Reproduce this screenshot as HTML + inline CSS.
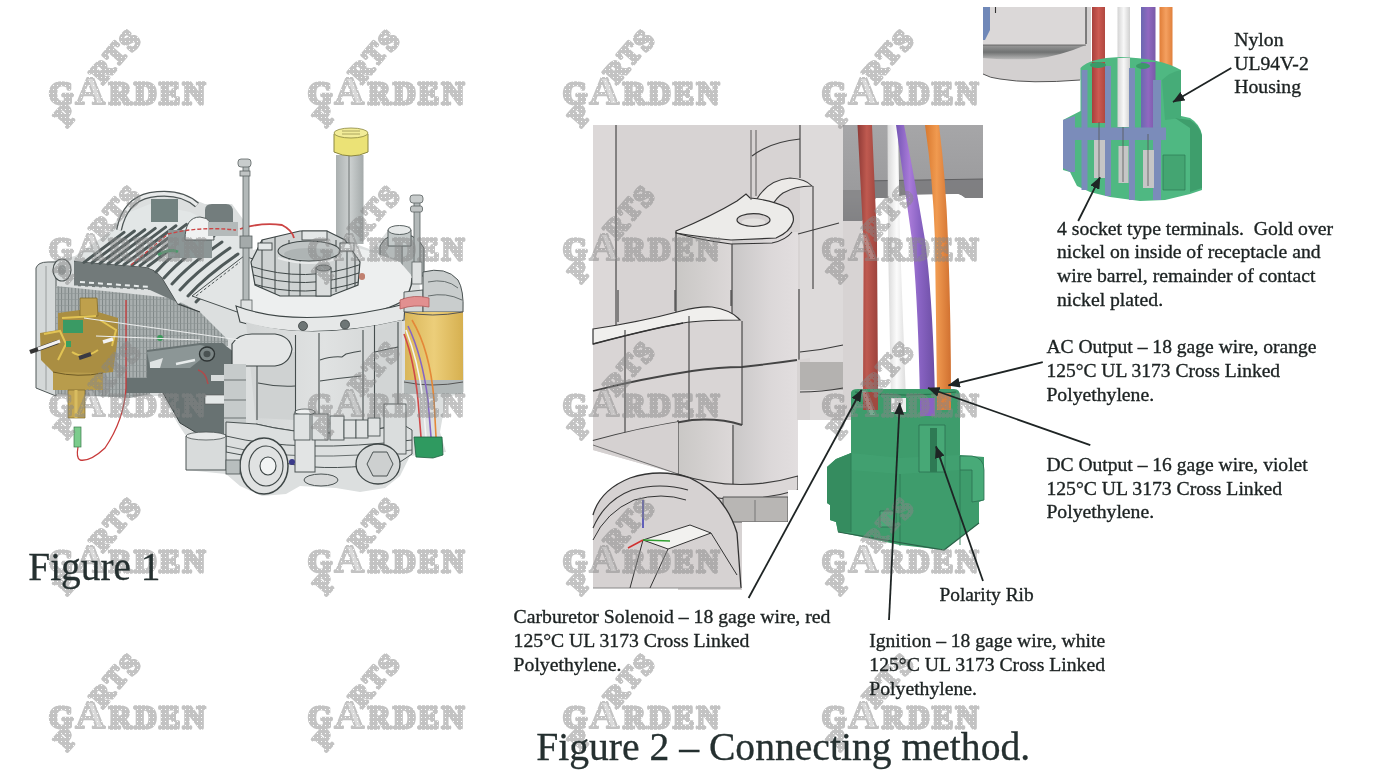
<!DOCTYPE html>
<html><head><meta charset="utf-8">
<style>
html,body{margin:0;padding:0;background:#fff;}
body{width:1374px;height:782px;position:relative;overflow:hidden;font-family:"Liberation Serif",serif;}
svg.full{position:absolute;left:0;top:0;width:1374px;height:782px;}
</style></head><body>
<svg class="full" viewBox="0 0 1374 782">
<defs>
<pattern id="grid" width="3.4" height="6" patternUnits="userSpaceOnUse"><rect width="3.4" height="6" fill="#a9afaf"/><rect width="0.9" height="6" fill="#7c8484"/><rect y="5.2" width="3.4" height="0.6" fill="#8c9494"/></pattern>
<linearGradient id="yel" x1="0" x2="1"><stop offset="0" stop-color="#d9b65a"/><stop offset="0.5" stop-color="#ecce7a"/><stop offset="1" stop-color="#d6b050"/></linearGradient>
<linearGradient id="gold" x1="0" x2="1"><stop offset="0" stop-color="#b09040"/><stop offset="0.5" stop-color="#d2b460"/><stop offset="1" stop-color="#b48e3c"/></linearGradient>
<linearGradient id="tube" x1="0" x2="1"><stop offset="0" stop-color="#aab0b0"/><stop offset="0.5" stop-color="#ccd0d0"/><stop offset="1" stop-color="#a4aaaa"/></linearGradient>
<linearGradient id="crank" x1="0" x2="1"><stop offset="0" stop-color="#d2d5d5"/><stop offset="0.5" stop-color="#e0e2e2"/><stop offset="1" stop-color="#d0d3d3"/></linearGradient>
</defs>
<!-- base silhouette -->
<path d="M36,268 Q38,262 48,262 L75,256 L110,232 L120,214 Q135,194 160,195 L190,198 L205,204 L232,204 L245,222 L253,250 L300,238 L345,240 L372,250 L390,228 L410,226 L418,262 L420,290 L440,286 L463,300 L464,392 L446,398 L440,432 L446,452 L410,456 L400,476 L385,488 L360,492 L336,488 L300,486 L286,494 L262,496 L240,486 L226,474 L186,470 L186,436 L178,424 L162,396 L126,396 L56,396 L36,388 Z" fill="#dcdfdf"/>
<!-- left panel -->
<path d="M36,268 Q38,262 48,262 L56,262 L56,396 L36,388 Z" fill="#d4d8d8" stroke="#505858" stroke-width="1"/>
<path d="M46,266 V390" stroke="#8a9090" stroke-width="0.8"/>
<ellipse cx="62" cy="270" rx="9" ry="11" fill="#d8dcdc" stroke="#4a5252" stroke-width="1.2"/>
<ellipse cx="62" cy="270" rx="4" ry="5" fill="#9aa0a0"/>
<!-- grid region -->
<path d="M56,286 L172,298 L200,312 L228,340 L228,346 L150,350 L150,394 L130,398 L56,394 Z" fill="url(#grid)"/>
<!-- dark hood -->
<path d="M74,261 L146,267 Q160,271 166,284 L178,304 L200,312 L172,300 L150,290 L74,286 Z" fill="#727a7a"/>
<path d="M74,261 L146,267 Q160,271 166,284 L178,304 L200,312" fill="none" stroke="#3a4040" stroke-width="1.2"/>
<path d="M74,286 L150,290" stroke="#e0e4e4" stroke-width="1.2" stroke-dasharray="4 3"/>
<!-- fins region -->
<path d="M78,258 L112,230 L130,212 L150,204 L190,212 L215,224 L244,240 L244,258 L192,296 L178,304 L166,284 Q160,271 146,267 L74,261 Z" fill="#e2e6e6"/>
<g stroke="#4f5959" stroke-width="3" fill="none" stroke-linecap="round">
<path d="M84,262.4 L124.0,232.4"/>
<path d="M92,262.8 L134.4,231.0"/>
<path d="M100,263.3 L144.8,229.7"/>
<path d="M108,263.8 L155.2,228.4"/>
<path d="M116,264.3 L165.6,227.1"/>
<path d="M124,264.8 L176.0,225.8"/>
<path d="M132,265.2 L186.4,224.4"/>
<path d="M140,265.7 L196.8,223.1"/>
<path d="M148,266.2 L207.2,221.8"/>
<path d="M156,272 Q174,252 206,230"/>
<path d="M164,278 Q182,258 214,236"/>
<path d="M172,284 Q190,264 222,242"/>
<path d="M180,290 Q198,270 230,248"/>
<path d="M188,296 Q206,276 238,254"/>
<path d="M196,302 Q214,282 246,260"/>
</g>
<path d="M80,282 L150,287" stroke="#e8ecec" stroke-width="2" stroke-dasharray="5 4"/>
<!-- upper middle parts -->
<path d="M119,230 Q125,200 150,195 Q180,190 197,205" fill="none" stroke="#4d5555" stroke-width="6"/>
<path d="M119,230 Q125,200 150,195 Q180,190 197,205" fill="none" stroke="#e8eaea" stroke-width="3.5"/>
<rect x="151" y="199" width="27" height="23" fill="#728280"/>
<path d="M205,222 V210 Q205,204 212,204 L226,204 Q233,204 233,212 V222 Z" fill="#737d7d"/>
<path d="M168,230 H212 V258 H168 Z" fill="#8c9696"/>
<path d="M185,240 Q185,217 200,217 Q214,217 214,240 Z" fill="#f0f2f2" stroke="#505858" stroke-width="1"/>
<path d="M208,222 H238 V236 H208 Z" fill="#b4baba"/>
<path d="M158,255 Q170,248 178,252" stroke="#4a9a6a" stroke-width="3" fill="none"/>
<!-- right side of fins: light slanted plate region -->
<path d="M192,296 L244,256 L256,260 L256,314 L240,313 Z" fill="#e2e5e5" stroke="#4a5252" stroke-width="1"/>
<path d="M196,296 L240,262" stroke="#505858" stroke-width="1" stroke-dasharray="3 2"/>
<!-- dipstick tube + cap -->
<rect x="336" y="155" width="27.5" height="89" fill="url(#tube)"/>
<path d="M349,153 V244" stroke="#6a7070" stroke-width="1"/>
<path d="M334,134 Q351,126 368,134 V152 Q351,160 334,152 Z" fill="#ebe276" stroke="#8a8640" stroke-width="1"/>
<ellipse cx="351" cy="133" rx="17" ry="5" fill="#f2ec98" stroke="#8a8640" stroke-width="0.8"/>
<path d="M342,131 L360,131 M342,134 L360,134" stroke="#9a9450" stroke-width="0.8"/>
<!-- right small cylinder -->
<path d="M380,246 Q384,238 390,236 L412,236 Q420,240 424,248 V276 H380 Z" fill="#b4baba" stroke="#4a5252" stroke-width="1"/>
<path d="M388,230 H411 V246 H388 Z" fill="#c4caca" stroke="#4a5252" stroke-width="0.9"/>
<ellipse cx="399.5" cy="230" rx="11.5" ry="4.5" fill="#e6e9e9" stroke="#4a5252" stroke-width="0.9"/>
<path d="M402,246 V276" stroke="#5a6262" stroke-width="0.9"/>
<!-- top plate -->
<path d="M248,262 L300,246 L345,244 L372,252 L400,262 L412,276 L412,290 Q405,304 380,310 Q330,320 290,318 Q262,316 250,313 Z" fill="#edefef"/>
<path d="M256,314 Q300,322 330,320 Q380,314 401,302 Q412,292 412,278" fill="none" stroke="#3e4646" stroke-width="1.4"/>
<!-- ring on plate -->
<defs><clipPath id="ringclip"><path d="M251,262 L262,240 L300,231 L327,231 L345,240 L360,262 L358,285 L330,296 L280,296 L255,285 Z"/></clipPath></defs>
<path d="M251,262 L262,240 L300,231 L327,231 L345,240 L360,262 L358,285 L330,296 L280,296 L255,285 Z" fill="#cfd3d3" stroke="#3e4646" stroke-width="1.2"/>
<g clip-path="url(#ringclip)" stroke="#3e4646" stroke-width="1" fill="none">
<path d="M250,266 Q305,284 362,264"/><path d="M250,274 Q305,292 362,272"/><path d="M250,283 Q305,300 362,281"/>
<path d="M262,240 V290 M275,236 V294 M289,240 V296 M300,244 V296 M336,240 V292 M347,244 V290 M355,250 V288"/>
</g>
<g fill="#e4e7e7" stroke="#3e4646" stroke-width="0.9">
<rect x="302" y="231" width="25" height="9"/>
<rect x="258" y="243" width="14" height="7"/>
<rect x="340" y="243" width="14" height="8"/>
</g>
<ellipse cx="309" cy="251" rx="31" ry="10" fill="#bfc4c4" stroke="#3e4646" stroke-width="1.1"/>
<ellipse cx="309" cy="254" rx="25" ry="6" fill="#aeb4b4"/>
<path d="M278,258 Q309,268 340,258" stroke="#e8eaea" stroke-width="2" fill="none"/>
<rect x="316" y="268" width="15" height="28" fill="#dadddd" stroke="#3e4646" stroke-width="1"/>
<ellipse cx="323.5" cy="268" rx="7.5" ry="3" fill="#9aa0a0" stroke="#3e4646" stroke-width="0.8"/>
<circle cx="362" cy="276" r="3" fill="#c08070"/>
<path d="M240,229 Q262,222 282,225 Q292,230 294,238" fill="none" stroke="#cc4444" stroke-width="1.8"/>
<circle cx="362" cy="277" r="3" fill="#c08070"/>
<!-- bolts -->
<rect x="243" y="166" width="6" height="136" fill="#b3b9b9" stroke="#5a6262" stroke-width="0.8"/>
<rect x="238" y="159" width="13" height="8" rx="3" fill="#c8cccc" stroke="#5a6262" stroke-width="0.8"/>
<rect x="240" y="171" width="10" height="5" fill="#c0c4c4" stroke="#5a6262" stroke-width="0.8"/>
<rect x="240" y="236" width="12" height="12" fill="#a4aaaa" stroke="#5a6262" stroke-width="0.8"/>
<rect x="241" y="300" width="11" height="20" fill="#dfe2e2" stroke="#5a6262" stroke-width="0.8"/>
<rect x="414" y="201" width="6" height="64" fill="#b3b9b9" stroke="#5a6262" stroke-width="0.8"/>
<rect x="410" y="195" width="13" height="8" rx="3" fill="#c8cccc" stroke="#5a6262" stroke-width="0.8"/>
<rect x="410.5" y="206" width="12" height="6" rx="2" fill="#c0c4c4" stroke="#5a6262" stroke-width="0.8"/>
<rect x="412" y="262" width="10" height="22" fill="#dfe2e2" stroke="#5a6262" stroke-width="0.8"/>
<!-- rim band below plate -->
<path d="M236,306 Q300,330 405,304 L404,320 Q310,342 240,322 Z" fill="#e6e8e8" stroke="#3e4646" stroke-width="1.1"/>
<circle cx="303" cy="326" r="4.5" fill="#6e7676" stroke="#3a4040" stroke-width="0.8"/><circle cx="345" cy="324.5" r="4.5" fill="#6e7676" stroke="#3a4040" stroke-width="0.8"/>
<!-- main crankcase front -->
<path d="M246,322 Q310,342 402,320 L402,424 Q330,442 256,424 Z" fill="url(#crank)"/>
<path d="M257,355 L295,352 V420 L257,418 Z" fill="#cfd2d2"/>
<path d="M375,330 L398,326 V420 L375,424 Z" fill="#d2d5d5"/>
<g stroke="#454d4d" stroke-width="1.1" fill="none">
<path d="M257,355 V420"/><path d="M295.5,335 V420"/><path d="M319,333 V414"/><path d="M363,330 V420"/><path d="M374.5,325 V420"/><path d="M398,322 V420"/>
<path d="M258,383 Q276,387 295,386"/><path d="M320,360 Q332,356 342,357 L346,354 Q354,352 361,351"/><path d="M320,381 Q340,378 361,376"/>
<path d="M375,352 Q388,349 398,347"/>
<path d="M256,424 Q330,442 402,424"/>
</g>
<!-- dark bracket -->
<path d="M147,350 L200,343 L223,343 L226,346 L234,352 L234,435 L200,435 L180,423 L163,393 L126,393 L126,378 L147,378 Z" fill="#687272"/>
<path d="M147,352 L200,345 L205,346 L200,360 L190,368 L150,368 Z" fill="#8c9696"/>
<path d="M150,362 L163,358 L160,368 L150,368 Z" fill="#dfe3e3"/>
<path d="M176,364 L195,360" stroke="#e8ecec" stroke-width="2.5"/>
<ellipse cx="207" cy="354" rx="7.5" ry="7" fill="#7c8686" stroke="#2e3434" stroke-width="1.4"/>
<ellipse cx="207" cy="354" rx="3.5" ry="3.2" fill="#4a5252"/>
<path d="M198,370 Q206,372 208,384" stroke="#b04a4a" stroke-width="1.5" fill="none"/>
<path d="M205,395 H226 V404 H205 Z" fill="#e4e8e8" stroke="#555" stroke-width="0.6"/>
<path d="M211,375 H226 V381 H211 Z" fill="#d8dcdc"/>
<circle cx="160" cy="338" r="3" fill="#3a9a5a"/>
<path d="M163,393 L180,423 L200,435" fill="none" stroke="#3a4242" stroke-width="1"/>
<!-- left tube on crankcase -->
<path d="M232,344 Q238,334 252,334 L275,334 Q290,336 292,349 Q290,364 275,366 L232,366 Z" fill="#e4e6e6" stroke="#3e4646" stroke-width="1.2"/>
<rect x="224" y="364" width="22" height="70" fill="#c6cbcb"/>
<path d="M224,380 H246 M224,400 H246 M224,418 H246" stroke="#555d5d" stroke-width="0.8"/>
<!-- base flange and lower body -->
<path d="M226,422 L256,424 Q330,442 402,424 L412,430 L412,454 L400,462 Q330,472 290,464 L226,452 Z" fill="#dcdfdf" stroke="#4a5252" stroke-width="1"/>
<path d="M226,436 Q300,454 412,440" fill="none" stroke="#4a5252" stroke-width="1"/>
<path d="M226,446 Q300,464 412,450" fill="none" stroke="#4a5252" stroke-width="0.8"/>
<rect x="295" y="412" width="20" height="60" fill="#e2e4e4" stroke="#4a5252" stroke-width="1"/>
<ellipse cx="305" cy="412" rx="10" ry="3" fill="#eef0f0" stroke="#4a5252" stroke-width="0.8"/>
<rect x="384" y="404" width="22" height="50" fill="#dadddd" stroke="#4a5252" stroke-width="0.9"/>
<g fill="#dfe2e2" stroke="#4a5252" stroke-width="0.9">
<rect x="294" y="414" width="16" height="26"/><rect x="312" y="414" width="16" height="26"/><rect x="330" y="416" width="14" height="24"/>
<rect x="344" y="420" width="12" height="18"/><rect x="356" y="420" width="12" height="18"/><rect x="368" y="418" width="12" height="18"/>
</g>
<!-- PTO boss left -->
<ellipse cx="264" cy="466" rx="24" ry="28" fill="#e0e2e2" stroke="#3e4646" stroke-width="1.5"/>
<ellipse cx="266" cy="466" rx="17" ry="20" fill="none" stroke="#3e4646" stroke-width="1.1"/>
<ellipse cx="268" cy="466" rx="8" ry="9" fill="#f2f4f4" stroke="#3e4646" stroke-width="1.1"/>
<circle cx="292" cy="462" r="3" fill="#3a3a8a"/>
<!-- boss right -->
<ellipse cx="378" cy="464" rx="22" ry="20" fill="#d6d9d9" stroke="#3e4646" stroke-width="1.3"/>
<path d="M373,452 L387,452 L393,464 L387,476 L373,476 L367,464 Z" fill="#cdd0d0" stroke="#4a5252" stroke-width="1"/>
<!-- bottom feet -->
<ellipse cx="321" cy="480" rx="17" ry="6" fill="#d6d8d8" stroke="#4a5252" stroke-width="1"/>
<path d="M186,436 H226 V470 H186 Z" fill="#d8dbdb" stroke="#4a5252" stroke-width="1"/>
<ellipse cx="206" cy="436" rx="20" ry="4" fill="#e6e8e8" stroke="#4a5252" stroke-width="0.8"/>
<rect x="226" y="460" width="14" height="14" fill="#b8bebe" stroke="#4a5252" stroke-width="0.8"/>
<!-- yellow cylinder -->
<path d="M404,292 L423,290 V312 H404 Z" fill="#d4d8d8" stroke="#4a5252" stroke-width="0.9"/>
<path d="M423,272 Q446,266 458,280 Q464,290 463,312 H423 Z" fill="#c9cdcd" stroke="#4a5252" stroke-width="1"/>
<path d="M428,282 Q446,278 458,288 M428,296 Q446,292 462,300" stroke="#5a6262" stroke-width="0.9" fill="none"/>
<path d="M400,300 Q414,294 429,298 L429,307 Q414,304 400,309 Z" fill="#e29090" stroke="#b05a5a" stroke-width="0.8"/>
<rect x="405" y="312" width="58" height="70" fill="url(#yel)"/>
<rect x="404" y="380" width="59" height="14" fill="#b2b8b8"/>
<path d="M404,312 Q432,318 463,312 M404,382 Q432,388 463,382" stroke="#555" stroke-width="1" fill="none"/>
<!-- wires to fig1 connector -->
<g fill="none" stroke-width="1.6">
<path d="M404,334 Q414,360 418,400 L421,437" stroke="#d04848"/>
<path d="M406,330 Q418,360 423,400 L426,437" stroke="#f4f4f4"/>
<path d="M408,326 Q422,355 428,400 L431,437" stroke="#8466c4"/>
<path d="M412,320 Q430,350 434,400 L436,437" stroke="#e48838"/>
</g>
<path d="M414,437 L442,437 L443,455 L433,458 L416,457 Z" fill="#2f9a60" stroke="#1f6040" stroke-width="0.8"/>
<!-- carburetor -->
<path d="M58,313 L80,310 L80,298 L97,298 L98,312 L118,318 L118,336 L113,372 L103,373 L103,390 L53,390 L53,372 L41,360 L40,333 L58,330 Z" fill="#aa8e42"/>
<path d="M80,298 L97,298 L98,316 L80,316 Z" fill="#bfa04c" stroke="#7a6428" stroke-width="0.7"/>
<path d="M53,372 L103,373 L103,390 L53,390 Z" fill="#b89c4c"/>
<path d="M53,372 Q78,378 103,373" stroke="#6e5a24" stroke-width="1" fill="none"/>
<path d="M44,334 L60,331 L66,344 L58,360 M100,320 L116,330 L112,346 M62,318 L96,316 M72,352 Q84,360 98,350" stroke="#e2c454" stroke-width="2" fill="none"/>
<path d="M68,390 H85 V418 H68 Z" fill="#c4a652" stroke="#7a6428" stroke-width="0.7"/>
<path d="M76,390 V418" stroke="#d8bc60" stroke-width="3"/>
<path d="M58,342 L30,352" stroke="#333" stroke-width="4.5"/>
<path d="M60,341 L38,349" stroke="#f2f2f2" stroke-width="3"/>
<path d="M103,342 L113,339" stroke="#f2f2f2" stroke-width="3.5"/>
<path d="M63,320 L83,320 L83,333 L63,333 Z" fill="#3a9a64"/>
<rect x="66" y="341" width="5" height="6" fill="#3aa060"/>
<path d="M79,358 L91,354" stroke="#3a3a44" stroke-width="4"/>
<!-- red wire to small connector -->
<path d="M126,300 V388 Q124,420 105,448 Q90,462 80,460 Q76,458 78,447" fill="none" stroke="#c83a3a" stroke-width="1.3"/>
<rect x="74" y="427" width="7" height="20" fill="#7ccc8c" stroke="#3a7a4a" stroke-width="0.7"/>
<!-- misc red wire top-left -->
<path d="M131,265 L168,234 Q200,226 236,230" fill="none" stroke="#cc4444" stroke-width="1.4" stroke-dasharray="4 2"/>
<!-- diagonal thin lines (linkage) -->
<path d="M84,318 L240,340 M96,336 L200,340" stroke="#eceeee" stroke-width="1.2"/>
</svg>

<svg class="full" viewBox="0 0 1374 782">
<defs>
<linearGradient id="colR" x1="0" x2="1" y1="0" y2="0"><stop offset="0" stop-color="#c9c7c7"/><stop offset="0.6" stop-color="#dcd8d9"/><stop offset="1" stop-color="#e2dedf"/></linearGradient>
<linearGradient id="colF" x1="0" x2="1" y1="0" y2="0"><stop offset="0" stop-color="#c9c7c5"/><stop offset="1" stop-color="#dcd8d8"/></linearGradient>
<linearGradient id="band" x1="0" x2="0" y1="0" y2="1"><stop offset="0" stop-color="#a6a6a8"/><stop offset="0.75" stop-color="#9a9a9c"/><stop offset="1" stop-color="#78787a"/></linearGradient>
<linearGradient id="wR" x1="0" x2="1"><stop offset="0" stop-color="#8e3a36"/><stop offset="0.45" stop-color="#bf5a50"/><stop offset="1" stop-color="#9c423c"/></linearGradient>
<linearGradient id="wW" x1="0" x2="1"><stop offset="0" stop-color="#d8d8d8"/><stop offset="0.5" stop-color="#fbfbfb"/><stop offset="1" stop-color="#dcdcdc"/></linearGradient>
<linearGradient id="wV" x1="0" x2="1"><stop offset="0" stop-color="#7456b4"/><stop offset="0.35" stop-color="#a87ad8"/><stop offset="0.6" stop-color="#8a64c4"/><stop offset="1" stop-color="#6c4ea4"/></linearGradient>
<linearGradient id="wO" x1="0" x2="1"><stop offset="0" stop-color="#d8782e"/><stop offset="0.45" stop-color="#f09a50"/><stop offset="1" stop-color="#d07030"/></linearGradient>
</defs>
<!-- base gray -->
<rect x="593" y="125" width="270" height="300" fill="#d7d3d3"/>
<rect x="593" y="420" width="204" height="170" fill="#d7d3d3"/>
<!-- left strip -->
<rect x="593" y="125" width="23" height="320" fill="#dcd8d8"/>
<!-- back right column area -->
<rect x="800" y="125" width="43" height="300" fill="#dddada"/>
<!-- dark band -->
<path d="M843,125 H983 V214 L972,206 Q965,196 958,194 L905,195 L890,198 L876,198 L862,221 L843,221 Z" fill="url(#band)"/>
<path d="M862,181 L983,179 V214 L972,206 Q965,196 958,194 L905,195 L890,198 L876,198 L862,221 Z" fill="#7a7a7c" opacity="0.85"/>
<path d="M843,190 H862 V221 H843 Z" fill="#858587" opacity="0.8"/>
<path d="M862,181 L983,179" stroke="#606062" stroke-width="1"/>
<!-- white under band right of red wire -->
<path d="M863,222 L876,198 L983,198 L983,420 L863,420 Z" fill="#ffffff"/>
<path d="M876,198 L890,198 L905,195 L958,194 Q965,196 972,206 L983,214 V230 H876 Z" fill="#fff"/>
<!-- column (main) -->
<rect x="676" y="232" width="56" height="258" fill="url(#colF)"/>
<rect x="732" y="232" width="66" height="258" fill="url(#colR)"/>
<!-- crescent behind tab -->
<path d="M757,199 Q768,180 790,178 Q806,179 812,186 Q795,186 783,193 Q776,198 772,206 Z" fill="#eceae8" stroke="#3a3a3a" stroke-width="1.1"/>
<!-- tab -->
<path d="M676,231 Q712,216 737,201 L746,194 L750,198 Q772,200 788,208 Q795,215 793,222 Q790,232 776,238 L731,240 Q700,237 676,233 Z" fill="#ecebe9" stroke="#333" stroke-width="1.2"/>
<path d="M676,233 Q700,240 731,244 L772,243 Q786,240 792,232" fill="none" stroke="#333" stroke-width="1.1"/>
<ellipse cx="753.5" cy="220" rx="16.5" ry="6.4" fill="#d5d1d1" stroke="#333" stroke-width="1.2"/>
<ellipse cx="753.5" cy="222" rx="12" ry="3.6" fill="#e4e2e0"/>
<!-- vertical lines -->
<g stroke="#3c3c3c" stroke-width="1.1" fill="none">
<path d="M616,125 V446"/>
<path d="M751,130 V200 M756,130 V196" stroke-width="0.8"/>
<path d="M800,125 V178"/>
<path d="M752,156 Q770,142 800,139"/>
<path d="M676,232 V476"/>
<path d="M732,244 V330"/>
<path d="M813,186 V289"/>
<path d="M799,289 V420"/>
<path d="M798,234 L839,223"/>
<path d="M618,290 V322 M675,290 V311 M731,290 V306"/>
</g>
<!-- arm -->
<path d="M593,329 Q640,322 681,311 Q700,306 712,307 Q730,310 738,318 L742,321 V425 Q720,418 692,420 Q640,428 593,441 Z" fill="#d9d5d5"/>
<path d="M593,329 Q640,322 681,311 Q700,306 712,307 Q730,310 738,318 L740,320 Q700,320 683,323 Q650,329 593,344 Z" fill="#f0efed" stroke="#333" stroke-width="1.2"/>
<path d="M593,344 Q650,329 683,323" fill="none" stroke="#333" stroke-width="1.3"/>
<path d="M593,391 Q640,379 692,371 Q720,367 742,367 Q770,364 797,360" fill="none" stroke="#444" stroke-width="1.8"/>
<path d="M593,441 Q640,428 692,420 Q720,418 742,425" fill="none" stroke="#444" stroke-width="2"/>
<g stroke="#3c3c3c" stroke-width="1.1" fill="none">
<path d="M625,330 V441"/>
<path d="M689,316 V420"/>
<path d="M742,321 V425"/>
<path d="M678,420 V476"/>
<path d="M733,425 V488"/>
</g>
<!-- skirt under arm and white gap -->
<path d="M593,450 L678,474 L678,600 L593,600 Z" fill="#fff"/>
<path d="M593,441 Q640,428 678,422 V474 L593,450 Z" fill="#d5d1d1"/>
<path d="M593,445 L678,474" stroke="#555" stroke-width="0.8"/>
<!-- column bottom ring and hex -->
<path d="M678,474 Q737,494 798,476 V490 Q737,508 678,490 Z" fill="#dbd7d7" stroke="#3a3a3a" stroke-width="1.1"/>
<path d="M723,497 H788 V522 H723 Z" fill="#b8b6b4" stroke="#555" stroke-width="1"/>
<path d="M755,500 V522" stroke="#777" stroke-width="1"/>
<!-- white right of column -->
<rect x="798" y="420" width="65" height="180" fill="#fff"/>
<rect x="788" y="490" width="10" height="110" fill="#fff"/>
<rect x="742" y="522" width="56" height="78" fill="#fff"/>
<path d="M797,360 L810,358 V420 H797 Z" fill="#d7d3d3"/>
<!-- back column lower right -->
<rect x="800" y="362" width="43" height="28" fill="#b4b2b0"/>
<path d="M800,352 Q822,350 843,345 M800,392 Q822,392 843,388" stroke="#3a3a3a" stroke-width="1.2" fill="none"/>
<!-- dome -->
<path d="M593,515 Q600,490 630,478 Q660,468 690,478 Q725,494 737,533 L741,588 H593 Z" fill="#d6d2d2"/>
<path d="M593,515 Q600,490 630,478 Q660,468 690,478 Q725,494 737,533 L741,588" fill="none" stroke="#333" stroke-width="1.3"/>
<path d="M593,528 Q605,500 632,490 Q660,482 688,490" fill="none" stroke="#333" stroke-width="1.1"/>
<path d="M593,540 Q606,512 634,500 Q662,492 686,500" fill="none" stroke="#333" stroke-width="1"/>
<path d="M593,588 H741" stroke="#888" stroke-width="1"/>
<!-- block on dome -->
<path d="M643,540 L690,525 L711,533 L668,549 Z" fill="#f2f1ef" stroke="#333" stroke-width="1"/>
<path d="M668,549 L650,588 M643,540 L630,588 M711,533 L737,575" stroke="#333" stroke-width="1" fill="none"/>
<!-- axis triad -->
<path d="M643,528 V500" stroke="#3a3ab0" stroke-width="1.5"/>
<path d="M643,540 L628,548" stroke="#d03030" stroke-width="1.5"/>
<path d="M643,540 L670,541" stroke="#30a030" stroke-width="1.5"/>
<!-- wires -->
<path d="M857.5,125 L872,125 L877,240 L878,392 L863,392 L863.5,240 Z" fill="url(#wR)"/>
<path d="M887.5,125 L898,125 L900,240 L906,400 L891,400 L888,240 Z" fill="url(#wW)"/>
<path d="M896,125 L904,125 Q915,180 925,240 Q933,300 935,400 L920,400 Q918,300 912,240 Q905,190 896,125 Z" fill="url(#wV)"/>
<path d="M925,125 L939,125 Q946,180 948,240 Q951,320 951,395 L937,395 Q936,320 935,240 Q933,180 925,125 Z" fill="url(#wO)"/>
<!-- fig2 connector -->
<g>
<path d="M851,393 Q851,389 858,389 L954,389 Q960,389 960,396 L960,455 L972,456 L984,457 L984,500 L979,502 L979,523 L944,550 L900,545 L838,532 L836,522 L830,520 L830,505 L827,503 L827,467 L836,459 L851,453 Z" fill="#3e9c6c"/>
<path d="M827,467 L836,459 L851,453 L851,532 L838,532 L836,522 L830,520 L830,505 L827,503 Z" fill="#358c5f"/>
<path d="M851,453 L900,458 L960,455 L960,470 L900,474 L851,470 Z" fill="#43a372" opacity="0.7"/>
<path d="M919,425 H945 V472 H919 Z" fill="#47a876" stroke="#2b7050" stroke-width="0.8"/>
<path d="M930,428 H937 V472 H930 Z" fill="#2e7a54"/>
<path d="M960,456 L972,456 Q984,458 984,470 V500 L972,502 V470 L960,470 Z" fill="#48aa78" stroke="#2b7050" stroke-width="0.8"/>
<path d="M880,511 H896 V527 H880 Z" fill="#4aa878" stroke="#2b7050" stroke-width="0.8"/>
<path d="M855,392 Q905,398 956,392" fill="none" stroke="#2a6d4c" stroke-width="1"/>
<path d="M851,453 V532 M900,474 V546 M960,470 V545" stroke="#2d7a55" stroke-width="0.9" fill="none"/>
<path d="M838,532 L944,550 L979,523" fill="none" stroke="#2a6248" stroke-width="1.2"/>
<!-- wire ends into connector -->
<path d="M863,392 H878 V410 H863 Z" fill="#a04a40"/>
<path d="M891,398 H906 V412 H891 Z" fill="#eeeeee"/>
<path d="M920,398 H935 V416 H920 Z" fill="#8a62c4"/>
<path d="M937,393 H951 V410 H937 Z" fill="#d88040"/>
</g>
</svg>

<svg class="full" viewBox="0 0 1374 782">
<defs>
<linearGradient id="iStripe" x1="0" x2="0" y1="0" y2="1"><stop offset="0" stop-color="#9a9a9a"/><stop offset="0.5" stop-color="#707272"/><stop offset="1" stop-color="#b8b8b8"/></linearGradient>
<linearGradient id="iR" x1="0" x2="1"><stop offset="0" stop-color="#a8403c"/><stop offset="0.5" stop-color="#cc5a52"/><stop offset="1" stop-color="#b04840"/></linearGradient>
<linearGradient id="iW" x1="0" x2="1"><stop offset="0" stop-color="#d4d4d4"/><stop offset="0.5" stop-color="#f8f8f8"/><stop offset="1" stop-color="#d0d0d0"/></linearGradient>
<linearGradient id="iV" x1="0" x2="1"><stop offset="0" stop-color="#6a68b0"/><stop offset="0.5" stop-color="#9068c0"/><stop offset="1" stop-color="#7a5aa8"/></linearGradient>
<linearGradient id="iO" x1="0" x2="1"><stop offset="0" stop-color="#e07e38"/><stop offset="0.5" stop-color="#f4a060"/><stop offset="1" stop-color="#e0803c"/></linearGradient>
</defs>
<!-- gray housing region -->
<path d="M983,7 H1091 V82 L1080,80 Q1030,84 1000,79 Q988,77 983,74 Z" fill="#d3d0d0"/>
<rect x="983" y="7" width="103" height="38" fill="#dbd8d8"/>
<path d="M983,45 H1086 Q1060,56 1035,59 Q1000,60 983,58 Z" fill="url(#iStripe)"/>
<path d="M983,7 H990 V30 L985,40 H983 Z" fill="#7088b8"/>
<path d="M1086,7 V44 M995.5,7 V13" stroke="#333" stroke-width="1.1"/>
<path d="M983,45 H1086" stroke="#555" stroke-width="0.8"/>
<path d="M983,74 Q990,78 1000,79 Q1030,84 1080,80" fill="none" stroke="#555" stroke-width="1"/>
<!-- wires above connector -->
<rect x="1092" y="7" width="13" height="116" fill="url(#iR)"/>
<rect x="1117.5" y="7" width="12.5" height="120" fill="url(#iW)"/>
<rect x="1141" y="7" width="14.5" height="127" fill="url(#iV)"/>
<rect x="1159.5" y="7" width="13" height="71" fill="url(#iO)"/>
<!-- connector green body -->
<path d="M1080.5,68 Q1090,58 1120,57 Q1160,58 1181,70 V116 L1190,118 Q1200,124 1202,135 V190 L1190,194 L1165,200 L1140,201 L1110,197 L1090,192 L1077,186 L1070,172 L1063,170 V120 L1080.5,111 Z" fill="#4fb882"/>
<!-- wires over body (upper part) -->
<rect x="1092" y="62" width="13" height="61" fill="url(#iR)"/>
<rect x="1117.5" y="58" width="12.5" height="69" fill="url(#iW)"/>
<rect x="1141" y="62" width="14.5" height="72" fill="url(#iV)"/>
<!-- cut surfaces blue-gray -->
<g fill="#7b8cba">
<rect x="1081.5" y="70" width="6" height="120"/>
<rect x="1105" y="66" width="6" height="130"/>
<rect x="1129" y="68" width="6" height="132"/>
<rect x="1153" y="80" width="8" height="120"/>
<rect x="1070" y="127.5" width="96" height="12.5"/>
<path d="M1063,120 L1075,116 V172 L1070,172 L1063,168 Z"/>
</g>
<!-- terminals -->
<g fill="#c6c6c6">
<rect x="1094" y="140" width="11" height="38"/>
<rect x="1118.5" y="146" width="10" height="37"/>
<rect x="1143" y="150" width="11" height="38"/>
</g>
<g stroke="#555" stroke-width="0.8">
<path d="M1099,122 V178 M1123,127 V182 M1148,134 V186"/>
</g>
<!-- right side details -->
<path d="M1162,80 Q1170,72 1181,70 V118 L1165,120 Z" fill="#46ac78"/>
<path d="M1175,118 L1190,120 Q1200,126 1202,136 V188 L1190,192 V128 Z" fill="#3e9e6c"/>
<path d="M1163,155 H1185 V190 H1163 Z" fill="#44a572" stroke="#2c7a54" stroke-width="0.7"/>
<!-- rim openings -->
<ellipse cx="1098" cy="65" rx="8" ry="3" fill="#3a9a68"/>
<ellipse cx="1143" cy="66" rx="7" ry="3" fill="#3a9a68"/>
</svg>

<svg class="full" viewBox="0 0 1374 782"><defs><pattern id="wdp" width="4" height="4" patternUnits="userSpaceOnUse"><rect width="4" height="4" fill="#fff"/><rect x="1" y="1" width="1" height="1" fill="#000"/></pattern><mask id="wmask" maskUnits="userSpaceOnUse" x="0" y="0" width="1374" height="782"><rect width="1374" height="782" fill="url(#wdp)"/></mask><g id="wm" fill="#868686" stroke="#868686" stroke-width="3.4" stroke-linejoin="round" font-family="Liberation Serif" font-weight="bold" text-anchor="middle">
<g font-size="31">
<text x="13" y="22.6">G</text>
<text x="72.3" y="22.6">R</text>
<text x="97.5" y="22.6">D</text>
<text x="121.5" y="22.6">E</text>
<text x="146" y="22.6">N</text>
</g>
<text x="42.2" y="22.6" font-size="40" fill="#b4b4b4" stroke="#868686" stroke-width="2" textLength="30" lengthAdjust="spacingAndGlyphs">A</text>
<g font-size="28" dominant-baseline="central">
<text x="17.5" y="34" transform="rotate(-49 17.5 34)">P</text>
<text x="54" y="-10" transform="rotate(-49 54 -10)">R</text>
<text x="67.5" y="-27" transform="rotate(-49 67.5 -27)">T</text>
<text x="81.5" y="-40.5" transform="rotate(-49 81.5 -40.5)">S</text>
</g></g></defs><g opacity="0.5" mask="url(#wmask)"><use href="#wm" x="48" y="81"/>
<use href="#wm" x="307" y="81"/>
<use href="#wm" x="562" y="81"/>
<use href="#wm" x="821" y="81"/>
<use href="#wm" x="48" y="237"/>
<use href="#wm" x="307" y="237"/>
<use href="#wm" x="562" y="237"/>
<use href="#wm" x="821" y="237"/>
<use href="#wm" x="48" y="393"/>
<use href="#wm" x="307" y="393"/>
<use href="#wm" x="562" y="393"/>
<use href="#wm" x="821" y="393"/>
<use href="#wm" x="48" y="549"/>
<use href="#wm" x="307" y="549"/>
<use href="#wm" x="562" y="549"/>
<use href="#wm" x="821" y="549"/>
<use href="#wm" x="48" y="705"/>
<use href="#wm" x="307" y="705"/>
<use href="#wm" x="562" y="705"/>
<use href="#wm" x="821" y="705"/></g></svg>
<svg class="full" viewBox="0 0 1374 782">
<defs><marker id="ah" viewBox="0 0 12 10" refX="11.5" refY="5" markerWidth="12" markerHeight="10" markerUnits="userSpaceOnUse" orient="auto"><path d="M0,0 L12,5 L0,10 Z" fill="#1e2424"/></marker></defs>
<g stroke="#1e2424" stroke-width="1.8" fill="none" marker-end="url(#ah)">
<path d="M1042.8,362.2 L948.4,385.3"/>
<path d="M1090.3,445.1 L928,388"/>
<path d="M748.6,598 L861.5,390"/>
<path d="M889,620 L899.7,403"/>
<path d="M983,581 L936,446.4"/>
<path d="M1231.3,68 L1173,102"/>
<path d="M1078.2,221 L1100,177.3"/>
</g>
</svg>

<svg class="full" viewBox="0 0 1374 782" xml:space="preserve" style="font-family:'Liberation Serif',serif;white-space:pre">
<text x="1234.3" y="46" font-size="19.7" fill="#1c2222" stroke="#1c2222" stroke-width="0.35">Nylon</text>
<text x="1234.3" y="69.8" font-size="19.7" fill="#1c2222" stroke="#1c2222" stroke-width="0.35" textLength="74.4" lengthAdjust="spacingAndGlyphs">UL94V-2</text>
<text x="1234.3" y="93.4" font-size="19.7" fill="#1c2222" stroke="#1c2222" stroke-width="0.35">Housing</text>
<text x="1057.0" y="235" font-size="19.7" fill="#1c2222" stroke="#1c2222" stroke-width="0.35" textLength="276.1" lengthAdjust="spacingAndGlyphs">4 socket type terminals.  Gold over</text>
<text x="1057.0" y="258.4" font-size="19.7" fill="#1c2222" stroke="#1c2222" stroke-width="0.35" textLength="263.6" lengthAdjust="spacingAndGlyphs">nickel on inside of receptacle and</text>
<text x="1057.0" y="282.2" font-size="19.7" fill="#1c2222" stroke="#1c2222" stroke-width="0.35">wire barrel, remainder of contact</text>
<text x="1057.0" y="305.8" font-size="19.7" fill="#1c2222" stroke="#1c2222" stroke-width="0.35">nickel plated.</text>
<text x="1046.4" y="353" font-size="19.7" fill="#1c2222" stroke="#1c2222" stroke-width="0.35" textLength="270.0" lengthAdjust="spacingAndGlyphs">AC Output – 18 gage wire, orange</text>
<text x="1046.4" y="377" font-size="19.7" fill="#1c2222" stroke="#1c2222" stroke-width="0.35" textLength="233.7" lengthAdjust="spacingAndGlyphs">125°C UL 3173 Cross Linked</text>
<text x="1046.4" y="400.8" font-size="19.7" fill="#1c2222" stroke="#1c2222" stroke-width="0.35">Polyethylene.</text>
<text x="1046.4" y="470.8" font-size="19.7" fill="#1c2222" stroke="#1c2222" stroke-width="0.35" textLength="261.3" lengthAdjust="spacingAndGlyphs">DC Output – 16 gage wire, violet</text>
<text x="1046.4" y="494.6" font-size="19.7" fill="#1c2222" stroke="#1c2222" stroke-width="0.35">125°C UL 3173 Cross Linked</text>
<text x="1046.4" y="518" font-size="19.7" fill="#1c2222" stroke="#1c2222" stroke-width="0.35">Polyethylene.</text>
<text x="939.4" y="600.6" font-size="19.7" fill="#1c2222" stroke="#1c2222" stroke-width="0.35" textLength="94.3" lengthAdjust="spacingAndGlyphs">Polarity Rib</text>
<text x="513.6" y="623.3" font-size="19.7" fill="#1c2222" stroke="#1c2222" stroke-width="0.35" textLength="316.8" lengthAdjust="spacingAndGlyphs">Carburetor Solenoid – 18 gage wire, red</text>
<text x="513.6" y="647.3" font-size="19.7" fill="#1c2222" stroke="#1c2222" stroke-width="0.35">125°C UL 3173 Cross Linked</text>
<text x="513.6" y="670.8" font-size="19.7" fill="#1c2222" stroke="#1c2222" stroke-width="0.35">Polyethylene.</text>
<text x="869.3" y="647.4" font-size="19.7" fill="#1c2222" stroke="#1c2222" stroke-width="0.35" textLength="235.8" lengthAdjust="spacingAndGlyphs">Ignition – 18 gage wire, white</text>
<text x="869.3" y="671.4" font-size="19.7" fill="#1c2222" stroke="#1c2222" stroke-width="0.35">125°C UL 3173 Cross Linked</text>
<text x="869.3" y="695" font-size="19.7" fill="#1c2222" stroke="#1c2222" stroke-width="0.35">Polyethylene.</text>
<text x="28.3" y="580.4" font-size="40.2" fill="#253030" stroke="#253030" stroke-width="0.3" textLength="132.2" lengthAdjust="spacingAndGlyphs">Figure 1</text>
<text x="536.2" y="759.5" font-size="39.4" fill="#253030" stroke="#253030" stroke-width="0.3" textLength="494.0" lengthAdjust="spacingAndGlyphs">Figure 2 – Connecting method.</text>
</svg>
</body></html>
